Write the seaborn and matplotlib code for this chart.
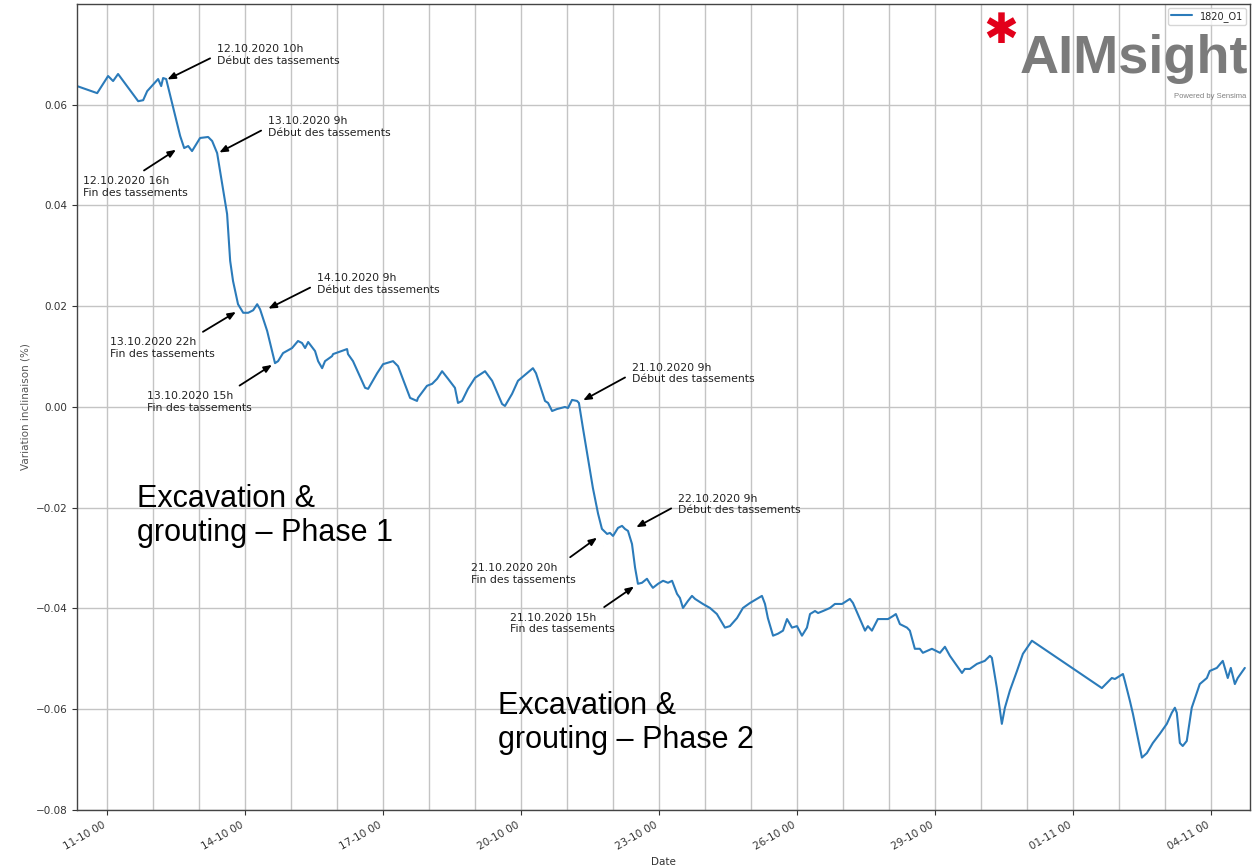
import pandas as pd
import numpy as np
import matplotlib
matplotlib.use("Agg")
import matplotlib.pyplot as plt
import matplotlib.dates as mdates
import seaborn as sns

# Sensor 1820_O1, hours elapsed since 11.10.2020 00h and inclination change (%)
start = pd.Timestamp("2020-10-11 00:00")
hours = [-15.7, -5.2, 0.5, 3.1, 5.7, 16.2, 18.8, 20.9, 26.6, 28.2, 29.2, 30.8,
         38.1, 40.2, 42.3, 44.3, 48.5, 52.7, 54.8, 57.4, 62.6, 64.2, 65.7, 68.3,
         71.0, 73.6, 76.2, 78.3, 79.8, 83.5, 87.6, 89.2, 91.8, 96.5, 99.6, 101.7,
         103.3, 104.9, 108.5, 110.1, 112.2, 113.7, 117.4, 117.9, 125.2, 125.7, 128.3, 134.6,
         136.2, 140.9, 144.0, 149.2, 151.8, 158.1, 161.7, 162.2, 166.9, 169.6, 172.2, 174.8,
         177.9, 181.5, 183.1, 185.2, 188.3, 192.0, 197.2, 200.9, 206.1, 207.6, 211.3, 214.4,
         219.1, 222.2, 223.8, 228.5, 230.1, 232.2, 234.8, 238.9, 240.5, 242.6, 245.2, 246.2,
         248.3, 250.9, 253.5, 256.2, 258.2, 260.9, 262.4, 264.0, 266.6, 268.7, 270.2, 271.8,
         273.9, 275.5, 277.0, 279.1, 281.7, 283.3, 284.8, 287.5, 290.1, 292.7, 294.8, 297.4,
         298.9, 300.5, 303.1, 305.2, 306.8, 310.9, 314.6, 318.2, 322.4, 325.0, 328.7, 331.8,
         335.5, 341.7, 343.3, 344.8, 347.5, 350.1, 352.7, 354.8, 357.4, 360.0, 362.6, 365.2,
         366.8, 369.4, 371.0, 373.6, 377.2, 379.8, 383.5, 387.6, 389.2, 395.5, 397.0, 399.1,
         402.2, 407.5, 410.1, 411.6, 413.7, 417.4, 418.9, 421.5, 424.1, 425.7, 430.4, 434.6,
         437.2, 439.8, 446.1, 447.6, 450.2, 453.9, 458.0, 460.7, 461.7, 464.3, 466.9, 468.5,
         471.1, 474.8, 477.9, 482.6, 519.1, 524.3, 525.9, 530.1, 531.1, 533.7, 535.3, 540.0,
         542.6, 545.7, 549.3, 553.0, 555.6, 557.2, 558.2, 559.8, 561.3, 563.4, 566.0, 570.2,
         573.9, 575.4, 579.1, 582.2, 584.8, 586.4, 588.5, 590.0, 593.7]
values = [0.0637, 0.0623, 0.0657, 0.0647, 0.0661, 0.0607, 0.0609, 0.0627, 0.0651, 0.0637, 0.0653, 0.0651,
          0.0538, 0.0514, 0.0518, 0.0508, 0.0534, 0.0536, 0.0528, 0.0504, 0.0383, 0.0290, 0.0250, 0.0204,
          0.0187, 0.0187, 0.0192, 0.0204, 0.0194, 0.0151, 0.0087, 0.0091, 0.0107, 0.0117, 0.0131, 0.0127,
          0.0117, 0.0129, 0.0111, 0.0091, 0.0077, 0.0091, 0.0101, 0.0105, 0.0115, 0.0105, 0.0091, 0.0038,
          0.0036, 0.0067, 0.0085, 0.0091, 0.0081, 0.0018, 0.0012, 0.0018, 0.0042, 0.0046, 0.0056, 0.0071,
          0.0056, 0.0038, 0.0008, 0.0012, 0.0036, 0.0058, 0.0071, 0.0052, 0.0006, 0.0002, 0.0026, 0.0052,
          0.0067, 0.0077, 0.0067, 0.0012, 0.0008, -0.0008, -0.0004, 0.0000, -0.0002, 0.0014, 0.0012, 0.0008,
          -0.0042, -0.0101, -0.0161, -0.0212, -0.0242, -0.0252, -0.0250, -0.0256, -0.0240, -0.0236, -0.0242, -0.0246,
          -0.0272, -0.0319, -0.0351, -0.0349, -0.0341, -0.0351, -0.0359, -0.0351, -0.0345, -0.0349, -0.0345, -0.0371,
          -0.0379, -0.0399, -0.0385, -0.0375, -0.0381, -0.0391, -0.0399, -0.0411, -0.0438, -0.0435, -0.0419, -0.0399,
          -0.0389, -0.0375, -0.0391, -0.0419, -0.0454, -0.0450, -0.0444, -0.0421, -0.0438, -0.0435, -0.0454, -0.0438,
          -0.0411, -0.0405, -0.0409, -0.0405, -0.0399, -0.0391, -0.0391, -0.0381, -0.0389, -0.0444, -0.0435, -0.0444,
          -0.0421, -0.0421, -0.0415, -0.0411, -0.0431, -0.0438, -0.0444, -0.0480, -0.0480, -0.0488, -0.0480, -0.0488,
          -0.0476, -0.0494, -0.0528, -0.0520, -0.0520, -0.0510, -0.0504, -0.0494, -0.0498, -0.0558, -0.0629, -0.0597,
          -0.0563, -0.0524, -0.0490, -0.0464, -0.0558, -0.0538, -0.0540, -0.0530, -0.0544, -0.0583, -0.0609, -0.0696,
          -0.0687, -0.0667, -0.0649, -0.0629, -0.0607, -0.0597, -0.0607, -0.0667, -0.0673, -0.0663, -0.0597, -0.0550,
          -0.0538, -0.0524, -0.0518, -0.0504, -0.0538, -0.0518, -0.0550, -0.0538, -0.0518]

# annotated settlement events
event_hours = [30.8, 36.5, 57.9, 67.8, 83.5, 86.6, 247.8, 275.5, 256.2, 275.5]
event_values = [0.0649, 0.0512, 0.0504, 0.0190, 0.0194, 0.0085, 0.0012, -0.0240, -0.0258, -0.0355]
event_labels = [
    "12.10.2020 10h\nDébut des tassements",
    "12.10.2020 16h\nFin des tassements",
    "13.10.2020 9h\nDébut des tassements",
    "13.10.2020 22h\nFin des tassements",
    "14.10.2020 9h\nDébut des tassements",
    "13.10.2020 15h\nFin des tassements",
    "21.10.2020 9h\nDébut des tassements",
    "22.10.2020 9h\nDébut des tassements",
    "21.10.2020 20h\nFin des tassements",
    "21.10.2020 15h\nFin des tassements",
]
phase_labels = ["Excavation &\ngrouting – Phase 1", "Excavation &\ngrouting – Phase 2"]
series_name = "1820_O1"

df = pd.DataFrame({"Date": start + pd.to_timedelta(hours, unit="h"), "value": values})
events = pd.DataFrame({"Date": start + pd.to_timedelta(event_hours, unit="h"), "value": event_values})

sns.set_theme(style="whitegrid")
plt.rcParams["font.family"] = ["DejaVu Sans"]
plt.rcParams["axes.unicode_minus"] = True

fig = plt.figure(figsize=(12.53, 8.65), dpi=100)
ax = fig.add_axes([0.0615, 0.0636, 0.9361, 0.9318])

sns.lineplot(data=df, x="Date", y="value", ax=ax, color="#2b7bba", linewidth=1.5, label=series_name)

ax.set_xlim(df["Date"].iloc[0], pd.Timestamp("2020-11-04 20:24"))
ax.set_ylim(-0.08, 0.08)
ax.set_yticks(np.arange(-0.08, 0.061, 0.02))
ax.yaxis.set_major_formatter(matplotlib.ticker.FuncFormatter(
    lambda v, pos: f"{v:.2f}".replace("-", "\u2212") if abs(v) > 1e-9 else "0.00"))
ax.xaxis.set_major_locator(mdates.DayLocator(interval=3))
ax.xaxis.set_minor_locator(mdates.DayLocator())
ax.xaxis.set_major_formatter(mdates.DateFormatter("%d-%m %H"))

ax.grid(True, which="major", color="#c4c4c4", linewidth=1.0)
ax.grid(True, which="minor", axis="x", color="#c4c4c4", linewidth=1.0)
ax.tick_params(axis="both", which="major", bottom=True, left=True, length=3.5, width=0.8,
               color="#333333", labelsize=7.5, labelcolor="#333333")
ax.tick_params(axis="x", which="minor", bottom=False)
plt.setp(ax.get_xticklabels(), rotation=30, ha="right")
for side in ["left", "bottom", "top", "right"]:
    ax.spines[side].set_color("#444444")
    ax.spines[side].set_linewidth(1.0)

ax.set_xlabel("Date", fontsize=7.5, color="#333333")
ax.set_ylabel("Variation inclinaison (%)", fontsize=7.5, color="#555555")

# annotation layout: text offset (points) and arrow start on the text box
offsets = [(36.7, 25.9), (-67.7, -19.4), (36, 26.6), (-91.4, -18.7), (36, 25.9),
           (-90.7, -19.4), (36, 27.4), (31, 24.5), (-91.4, -18.7), (-90, -19.4)]
relpos = [(0, 0.5), (0.5, 1), (0, 0.5), (0.8, 1), (0, 0.5),
          (0.8, 1), (0, 0.5), (0, 0.5), (0.87, 1), (0.82, 1)]
for i, label in enumerate(event_labels):
    ax.annotate(label, xy=(events["Date"].iloc[i], events["value"].iloc[i]),
                xytext=offsets[i], textcoords="offset points", ha="left", va="top",
                fontsize=7.8, color="#222222",
                arrowprops=dict(arrowstyle="-|>, head_length=0.6, head_width=0.25",
                                color="black", lw=1.3, shrinkA=3, shrinkB=1,
                                relpos=relpos[i]))

ax.text(0.0512, 0.405, phase_labels[0], transform=ax.transAxes, fontsize=22,
        family="Liberation Sans", va="top", ha="left", color="black")
ax.text(0.359, 0.148, phase_labels[1], transform=ax.transAxes, fontsize=22,
        family="Liberation Sans", va="top", ha="left", color="black")

leg = ax.legend(loc="upper right", fontsize=7, frameon=True, borderaxespad=0.4,
                handlelength=2.2, borderpad=0.3)
leg.get_frame().set_edgecolor("#cccccc")

# AIMsight logo
fig.text(1001 / 1253, 1 - 31 / 865, "\u2731", fontsize=30, color="#e2001a",
         ha="center", va="center", family="DejaVu Sans")
fig.text(1020 / 1253, 1 - 73 / 865, "AIMsight", fontsize=39, fontweight="bold",
         color="#7b7b7b", family="Liberation Sans", ha="left", va="baseline")
fig.text(1246 / 1253, 1 - 98 / 865, "Powered by Sensima", fontsize=5.5,
         color="#808080", family="Liberation Sans", ha="right", va="baseline")

fig.savefig("out.png", dpi=100)
